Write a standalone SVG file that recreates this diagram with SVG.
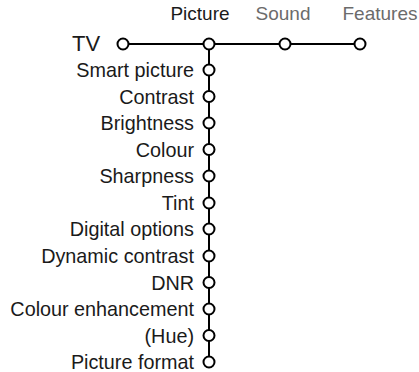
<svg xmlns="http://www.w3.org/2000/svg" width="419" height="372" viewBox="0 0 419 372">
<style>
text{font-family:"Liberation Sans",Arial,sans-serif;font-size:19.8px;fill:#1a1a1a}
.l{text-anchor:end}
.h{text-anchor:middle;font-size:19px}
.g{fill:#6b6b6b}
.c{fill:#fff;stroke:#000;stroke-width:2}
.ln{stroke:#000;stroke-width:2;fill:none}
</style>
<rect width="419" height="372" fill="#fff"/>
<g id="connectors">
<line class="ln" x1="123" y1="44" x2="360" y2="44"/>
<line class="ln" x1="209" y1="44" x2="209" y2="362"/>
</g>
<g id="tv"><text x="72" y="51" style="font-size:22px">TV</text><circle class="c" cx="123" cy="44" r="5.5"/></g>
<g id="picture"><text class="h" x="200" y="20">Picture</text><circle class="c" cx="209" cy="44" r="5.5"/></g>
<g id="sound"><text class="h g" x="283" y="20">Sound</text><circle class="c" cx="285" cy="44" r="5.5"/></g>
<g id="features"><text class="h g" x="380" y="20">Features</text><circle class="c" cx="360" cy="44" r="5.5"/></g>
<g id="smart-picture"><text class="l" x="194" y="77">Smart picture</text><circle class="c" cx="209" cy="70" r="5.5"/></g>
<g id="contrast"><text class="l" x="194" y="103.5">Contrast</text><circle class="c" cx="209" cy="96.5" r="5.5"/></g>
<g id="brightness"><text class="l" x="194" y="130">Brightness</text><circle class="c" cx="209" cy="123" r="5.5"/></g>
<g id="colour"><text class="l" x="194" y="156.5">Colour</text><circle class="c" cx="209" cy="149.5" r="5.5"/></g>
<g id="sharpness"><text class="l" x="194" y="183">Sharpness</text><circle class="c" cx="209" cy="176" r="5.5"/></g>
<g id="tint"><text class="l" x="194" y="210">Tint</text><circle class="c" cx="209" cy="203" r="5.5"/></g>
<g id="digital-options"><text class="l" x="194" y="236">Digital options</text><circle class="c" cx="209" cy="229" r="5.5"/></g>
<g id="dynamic-contrast"><text class="l" x="194" y="263">Dynamic contrast</text><circle class="c" cx="209" cy="256" r="5.5"/></g>
<g id="dnr"><text class="l" x="194" y="289.5">DNR</text><circle class="c" cx="209" cy="282.5" r="5.5"/></g>
<g id="colour-enhancement"><text class="l" x="194" y="316">Colour enhancement</text><circle class="c" cx="209" cy="309" r="5.5"/></g>
<g id="hue"><text class="l" x="194" y="342.5">(Hue)</text><circle class="c" cx="209" cy="335.5" r="5.5"/></g>
<g id="picture-format"><text class="l" x="194" y="369">Picture format</text><circle class="c" cx="209" cy="362" r="5.5"/></g>
</svg>
